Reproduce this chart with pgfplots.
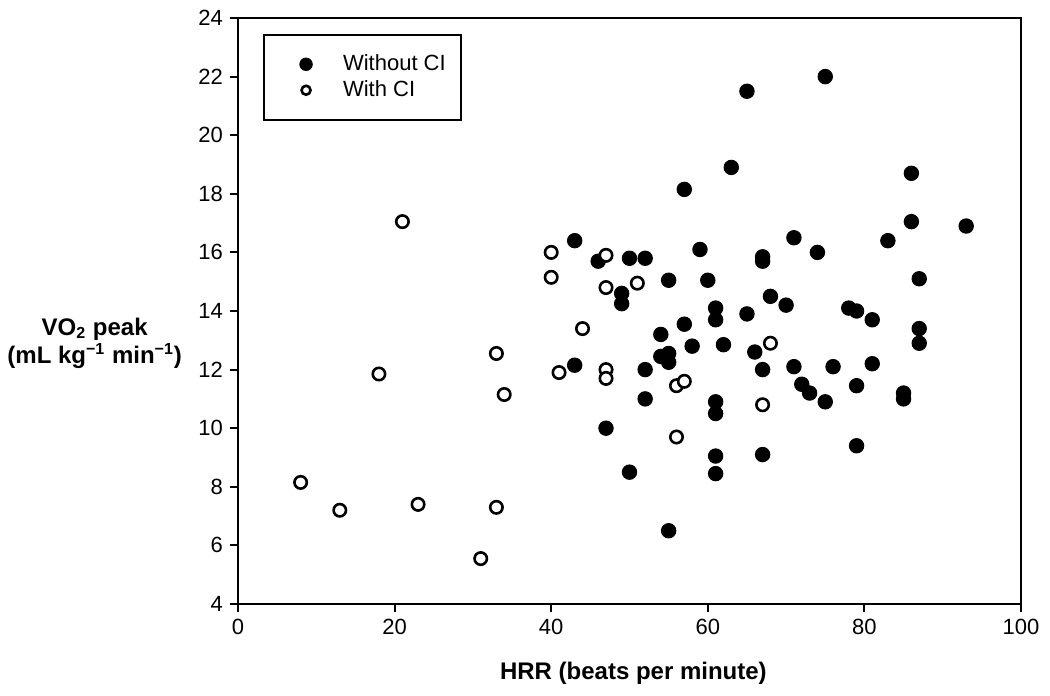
\documentclass[border=0pt]{standalone}
\usepackage{fontspec}
\setmainfont{Liberation Sans}
\usepackage{pgfplots}
\pgfplotsset{compat=1.18}
\begin{document}
\begin{tikzpicture}
\useasboundingbox (-119pt,-46pt) rectangle (406pt,302pt);
\begin{axis}[
  at={(0,0)}, anchor=south west,
  scale only axis, width=391.5pt, height=293pt,
  xmin=0, xmax=100, ymin=4, ymax=24,
  xtick={0,20,...,100}, ytick={4,6,...,24},
  tick align=outside, xtick pos=left, ytick pos=left,
  major tick length=4pt,
  axis line style={line width=1pt},
  major tick style={line width=1pt, black},
  tick label style={font=\fontsize{11}{12}\selectfont},
  /pgf/number format/assume math mode=true,
  xlabel={\textbf{HRR (beats per minute)}},
  xlabel style={font=\fontsize{12}{14}\selectfont, at={(axis description cs:0.505,-0.118)}, anchor=center},
  ylabel={\textbf{VO\smash{\textsubscript{2}} peak}\\[2pt]\textbf{(mL kg\smash{\textsuperscript{−1}} min\smash{\textsuperscript{−1}})}},
  ylabel style={font=\fontsize{12}{12}\selectfont, at={(axis description cs:-0.183,0.445)}, rotate=-90, anchor=center, align=center},
  legend style={at={(axis description cs:0.032,0.973)}, anchor=north west, draw=black, line width=1pt,
    inner xsep=5.5pt, inner ysep=8pt, row sep=-0.5pt, font=\fontsize{11}{13}\selectfont,
    cells={anchor=west}, /tikz/every odd column/.append style={column sep=12.5pt}},
  legend cell align=left,
]
\addplot[only marks, mark=*, mark size=3.6pt, mark options={fill=black, draw=black, line width=0.5pt},
  legend image code/.code={\path (0pt,0pt) (18.5pt,0pt); \draw[only marks, mark=*, mark size=3.1pt, fill=black, draw=black, line width=0.5pt] plot coordinates {(15pt,0pt)};}] coordinates {
(43,16.4) (46,15.7) (50,15.8) (52,15.8) (59,16.1) (67,15.85) (67,15.7) (71,16.5) (74,16.0) (83,16.4)
(86,18.7) (86,17.05) (93,16.9) (87,15.1) (65,21.5) (75,22.0) (63,18.9) (57,18.15) (55,15.05) (60,15.05)
(49,14.6) (49,14.25) (68,14.5) (70,14.2) (61,14.1) (61,13.7) (65,13.9) (57,13.55) (54,13.2) (58,12.8)
(62,12.85) (54,12.45) (55,12.55) (55,12.25) (66,12.6) (67,12.0) (71,12.1) (43,12.15) (52,12.0) (52,11.0)
(61,10.9) (61,10.5) (47,10.0) (61,9.05) (67,9.1) (61,8.45) (50,8.5) (55,6.5) (78,14.1) (79,14.0)
(81,13.7) (87,13.4) (87,12.9) (76,12.1) (81,12.2) (72,11.5) (73,11.2) (75,10.9) (79,11.45) (85,11.2)
(85,11.0) (79,9.4)
};
\addlegendentry{Without CI}
\addplot[only marks, mark=*, mark size=3.1pt, mark options={fill=white, draw=black, line width=1.3pt},
  legend image code/.code={\path (0pt,0pt) (18.5pt,0pt); \draw[only marks, mark=*, mark size=2.25pt, fill=white, draw=black, line width=0.9pt] plot coordinates {(15pt,0pt)};}] coordinates {
(8,8.15) (13,7.2) (18,11.85) (21,17.05) (23,7.4) (31,5.55) (33,12.55) (33,7.3) (34,11.15) (40,16.0)
(40,15.15) (41,11.9) (44,13.4) (47,15.9) (47,14.8) (47,12.0) (47,11.7) (51,14.95) (56,11.45) (57,11.6)
(56,9.7) (67,10.8) (68,12.9)
};
\addlegendentry{With CI}
\end{axis}
\end{tikzpicture}
\end{document}
